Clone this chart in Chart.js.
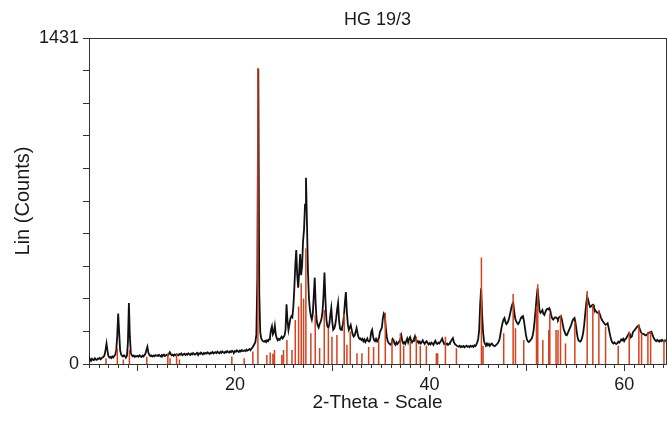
<!DOCTYPE html>
<html>
<head>
<meta charset="utf-8">
<script src="https://cdn.jsdelivr.net/npm/chart.js@4.4.1/dist/chart.umd.min.js"></script>
<style>
  html, body { margin: 0; padding: 0; background: #fff; }
  #wrap { width: 667px; height: 421px; }
</style>
</head>
<body>
<div id="wrap"><canvas id="xrdChart" width="667" height="421"></canvas></div>
<script>
// scan: 2-theta from 5.0 in 0.1 deg steps
var scanStart = 5.0;
var scanStep = 0.1;
var counts = [
  16,21,14,23,19,17,25,20,18,24,
  22,27,21,26,29,31,40,62,90,58,
  34,28,31,26,33,29,35,40,62,120,
  222,138,60,42,36,33,38,34,31,36,
  95,268,120,48,38,34,37,31,35,33,
  36,32,38,34,31,37,33,39,45,62,
  76,50,40,35,38,33,37,34,39,36,
  38,35,40,36,33,39,37,41,35,38,
  40,37,43,52,44,38,41,36,42,39,
  43,40,38,44,41,46,39,42,45,40,
  44,41,47,43,40,46,42,48,44,41,
  45,49,43,47,44,50,46,42,48,45,
  49,46,51,47,44,50,48,53,46,49,
  52,48,54,50,47,53,49,55,51,48,
  54,51,57,53,50,56,52,58,54,51,
  57,54,60,56,53,59,55,61,57,58,
  60,57,63,59,62,66,61,68,72,80,
  88,96,130,380,1295,310,140,112,104,100,
  98,102,96,104,100,108,116,150,166,130,
  140,168,128,112,104,110,106,114,120,112,
  118,126,150,262,190,150,175,200,210,205,
  250,330,430,500,390,335,400,483,390,430,
  540,590,700,818,620,410,290,240,210,195,
  220,300,379,260,190,170,160,175,185,200,
  230,300,401,280,195,165,160,175,215,246,
  185,150,155,170,200,240,268,190,155,150,
  160,175,210,270,316,230,175,150,160,171,
  150,130,120,125,140,158,135,118,110,112,
  105,110,100,108,96,104,112,100,98,106,
  140,150,120,104,100,110,98,106,115,140,
  150,160,200,222,215,160,120,100,92,88,
  85,92,110,105,90,84,95,88,93,100,
  108,125,100,90,96,88,100,112,95,110,
  118,104,95,102,110,122,108,96,100,92,
  98,90,96,104,94,88,96,100,92,86,
  92,86,94,90,84,96,102,90,88,94,
  90,96,104,112,98,88,92,86,90,84,
  88,94,100,108,114,96,88,84,80,78,
  76,80,74,78,75,79,73,77,80,76,
  78,74,80,76,79,75,82,78,84,95,
  110,150,260,332,220,140,100,88,84,90,
  82,88,80,86,90,84,80,78,82,86,
  90,98,110,135,160,180,195,202,185,175,
  180,190,205,225,245,262,269,230,200,188,
  180,175,182,192,203,208,211,190,160,130,
  108,100,96,100,106,112,125,150,190,240,
  290,332,285,235,225,230,237,220,215,228,
  238,242,240,245,235,215,200,195,200,205,
  205,200,195,205,208,211,195,172,150,140,
  128,126,135,145,155,165,178,190,198,202,
  180,150,120,104,100,98,105,118,140,175,
  220,265,296,282,262,250,252,258,260,245,
  238,232,226,224,230,218,205,195,188,182,
  176,172,175,179,160,138,118,102,94,90,
  95,90,88,92,98,94,100,108,104,110,
  100,108,112,120,128,135,125,118,122,140,
  145,150,156,162,166,167,155,142,135,132,
  132,128,125,128,132,136,138,140,142,130,
  118,110,104,100,106,102,98,104,100,106,
  102,98,104,100
];

// reference pattern sticks (2-theta, intensity)
var refPos = [6.75, 7.91, 8.53, 9.15, 10.94, 13.1, 13.33, 14.0, 14.3, 19.68, 20.95, 21.84,
  22.36, 23.28, 23.62, 23.9, 24.06, 24.82, 24.99, 25.34, 25.86, 26.2, 26.54, 26.81, 27.05,
  27.29, 27.8, 28.25, 28.7, 29.18, 29.6, 29.97, 30.48, 31.23, 31.51, 31.85, 32.54, 33.05,
  33.74, 34.25, 34.77, 35.45, 36.14, 37.0, 37.34, 38.02, 38.64, 39.05, 39.67, 40.7, 40.83,
  41.63, 42.76, 45.33, 45.5, 47.62, 48.59, 48.83, 49.68, 50.99, 51.12, 51.64, 52.25, 52.36,
  53.0, 53.2, 53.46, 53.97, 54.93, 56.2, 56.78, 57.4, 58.09, 59.39, 60.52, 61.51, 61.79,
  62.44, 62.72, 64.09];
var refInt = [25, 69, 20, 61, 32, 47, 25, 45, 20, 33, 25, 55,
  1300, 40, 50, 45, 61, 40, 61, 105, 61, 193, 252, 354, 288,
  508, 135, 215, 70, 237, 157, 120, 127, 222, 85, 143, 47, 47,
  75, 75, 105, 225, 105, 135, 80, 100, 120, 80, 80, 47, 47,
  120, 69, 468, 80, 135, 307, 157, 105, 252, 350, 105, 149, 222,
  149, 149, 215, 90, 186, 320, 259, 234, 163, 80, 142, 176, 135,
  142, 142, 105];

var xMajorTicks = [10, 20, 30, 40, 50, 60];
var xLabels = [20, 40, 60];
var yTicks = [0, 143.1, 286.2, 429.3, 572.4, 715.5, 858.6, 1001.7, 1144.8, 1287.9, 1431];
var yLabels = [0, 1431];

var axisColor = '#333';
var textColor = '#1a1a1a';
var fontFamily = '"Liberation Sans", Arial, Helvetica, sans-serif';

var scanPoints = counts.map(function (c, i) {
  return { x: +(scanStart + i * scanStep).toFixed(2), y: c };
});
var stickPoints = [];
refPos.forEach(function (p, i) {
  stickPoints.push({ x: p, y: 0 });
  stickPoints.push({ x: p, y: refInt[i] });
  stickPoints.push({ x: p, y: null });
});

// small 1-degree ticks under the x axis
var minorTicks = {
  id: 'minorTicks',
  afterDraw: function (chart) {
    var ctx = chart.ctx, area = chart.chartArea, sx = chart.scales.x;
    ctx.save();
    ctx.strokeStyle = axisColor;
    ctx.lineWidth = 1;
    ctx.beginPath();
    for (var v = Math.ceil(sx.min); v <= sx.max; v++) {
      if (v % 10 === 0) continue;
      var px = Math.round(sx.getPixelForValue(v)) + 0.5;
      ctx.moveTo(px, area.bottom);
      ctx.lineTo(px, area.bottom + 4);
    }
    ctx.stroke();
    ctx.restore();
  }
};

var ctx = document.getElementById('xrdChart').getContext('2d');
var xrdChart = new Chart(ctx, {
  type: 'line',
  data: {
    datasets: [
      {
        label: 'Reference',
        data: stickPoints,
        borderColor: '#d4421e',
        borderWidth: 1.5,
        pointRadius: 0,
        spanGaps: false,
        tension: 0,
        order: 0
      },
      {
        label: 'HG 19/3',
        data: scanPoints,
        borderColor: '#111',
        borderWidth: 1.8,
        pointRadius: 0,
        tension: 0,
        order: 1
      }
    ]
  },
  options: {
    responsive: false,
    animation: false,
    devicePixelRatio: 1,
    layout: { padding: { left: 0, right: 1, top: 0, bottom: 0 } },
    plugins: {
      legend: { display: false },
      tooltip: { enabled: false },
      title: { display: false }
    },
    scales: {
      x: {
        type: 'linear',
        position: 'bottom',
        min: 5,
        max: 64.3,
        afterFit: function (s) { s.height = 57; },
        afterBuildTicks: function (s) { s.ticks = xMajorTicks.map(function (v) { return { value: v }; }); },
        ticks: {
          autoSkip: false,
          maxRotation: 0,
          padding: 3,
          color: textColor,
          font: { family: fontFamily, size: 18 },
          callback: function (v) { return xLabels.indexOf(v) >= 0 ? String(v) : ''; }
        },
        grid: { drawOnChartArea: false, tickLength: 7, tickColor: axisColor },
        border: { color: axisColor, width: 1 },
        title: {
          display: true,
          text: '2-Theta - Scale',
          color: textColor,
          font: { family: fontFamily, size: 19 },
          padding: { top: 0, bottom: 7 }
        }
      },
      xTop: {
        type: 'linear',
        position: 'top',
        min: 5,
        max: 64.3,
        afterFit: function (s) { s.height = 38; },
        ticks: { display: false },
        grid: { display: false },
        border: { color: axisColor, width: 1 },
        title: {
          display: true,
          text: 'HG 19/3',
          color: textColor,
          font: { family: fontFamily, size: 18 },
          padding: { top: 9, bottom: 0 }
        }
      },
      y: {
        type: 'linear',
        position: 'left',
        min: 0,
        max: 1431,
        afterFit: function (s) { s.width = 89; },
        afterBuildTicks: function (s) { s.ticks = yTicks.map(function (v) { return { value: v }; }); },
        ticks: {
          padding: 4,
          color: textColor,
          font: { family: fontFamily, size: 18 },
          callback: function (v) { return yLabels.indexOf(v) >= 0 ? String(v) : ''; }
        },
        grid: { drawOnChartArea: false, tickLength: 6, tickColor: axisColor },
        border: { color: axisColor, width: 1 },
        title: {
          display: true,
          text: 'Lin (Counts)',
          color: textColor,
          font: { family: fontFamily, size: 20 },
          padding: { top: 11, bottom: 0 }
        }
      },
      yRight: {
        type: 'linear',
        position: 'right',
        min: 0,
        max: 1431,
        afterFit: function (s) { s.width = 0; },
        ticks: { display: false },
        grid: { display: false },
        border: { color: axisColor, width: 1 }
      }
    }
  },
  plugins: [minorTicks]
});
</script>
</body>
</html>
